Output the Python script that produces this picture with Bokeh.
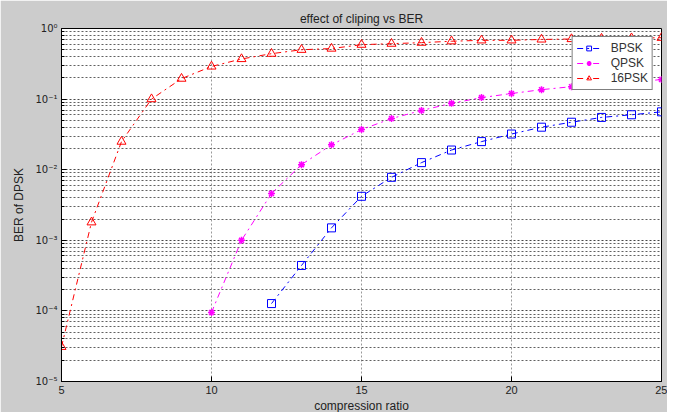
from bokeh.plotting import figure
from bokeh.models import (FixedTicker, CustomJSTickFormatter, Legend, LegendItem)
from bokeh.embed import file_html
from bokeh.resources import INLINE

# ---- data ----
ratio_bpsk = [12, 13, 14, 15, 16, 17, 18, 19, 20, 21, 22, 23, 24, 25]
ber_bpsk = [1.27e-4, 4.4e-4, 1.5e-3, 4.2e-3, 7.8e-3, 1.26e-2, 1.9e-2, 2.5e-2,
            3.2e-2, 4.0e-2, 4.7e-2, 5.5e-2, 6.0e-2, 6.6e-2]

ratio_qpsk = [10, 11, 12, 13, 14, 15, 16, 17, 18, 19, 20, 21, 22, 23, 24, 25]
ber_qpsk = [9.5e-5, 1.0e-3, 4.6e-3, 1.18e-2, 2.25e-2, 3.7e-2, 5.3e-2, 6.9e-2,
            8.7e-2, 0.105, 0.12, 0.136, 0.15, 0.16, 0.17, 0.19]

ratio_16psk = [5, 6, 7, 8, 9, 10, 11, 12, 13, 14, 15, 16, 17, 18, 19, 20, 21, 22, 23, 24, 25]
ber_16psk = [3.1e-5, 1.8e-3, 2.5e-2, 0.1, 0.195, 0.29, 0.37, 0.44, 0.50, 0.52,
             0.59, 0.61, 0.63, 0.66, 0.68, 0.68, 0.70, 0.71, 0.72, 0.73, 0.74]

x_ticks = [5, 10, 15, 20, 25]
y_exponents = [-5, -4, -3, -2, -1, 0]

title_text = "effect of cliping vs BER"
x_label = "compression ratio"
y_label = "BER of DPSK"

FONT = "Liberation Sans"
GREY = "#cccccc"

p = figure(width=667, height=412, output_backend="svg", toolbar_location=None,
           x_range=(5, 25), y_range=(1e-5, 1), y_axis_type="log",
           min_border_left=61, min_border_right=6, min_border_top=28, min_border_bottom=31,
           background_fill_color="white", border_fill_color=GREY)
p.frame_width = 600
p.frame_height = 353

p.title.text = title_text
p.title.align = "center"
p.title.text_font = FONT
p.title.text_font_size = "12px"
p.title.text_font_style = "normal"
p.title.text_color = "#222222"
p.title.standoff = 5
p.title.offset = 0

p.outline_line_color = "black"
p.outline_line_width = 1

# x axis
p.xaxis.ticker = FixedTicker(ticks=x_ticks, minor_ticks=[])
p.xaxis.axis_label = x_label
# y axis
decades = [10.0 ** e for e in y_exponents]
minors = [m * 10.0 ** e for e in y_exponents[:-1] for m in range(2, 10)]
p.yaxis.ticker = FixedTicker(ticks=decades, minor_ticks=minors)
p.yaxis.formatter = CustomJSTickFormatter(code="""
const e = Math.round(Math.log10(tick));
const sup = {'-':'\u207b','0':'\u2070','1':'\u00b9','2':'\u00b2','3':'\u00b3','4':'\u2074','5':'\u2075','6':'\u2076','7':'\u2077','8':'\u2078','9':'\u2079'};
return '10' + String(e).split('').map(c => sup[c]).join('');
""")
p.yaxis.axis_label = y_label

for ax in (p.xaxis, p.yaxis):
    ax.axis_line_color = "black"
    ax.major_tick_in = 5
    ax.major_tick_out = 0
    ax.minor_tick_in = 3
    ax.minor_tick_out = 0
    ax.major_tick_line_color = "black"
    ax.minor_tick_line_color = "black"
    ax.major_label_text_font = "DejaVu Sans"
    ax.major_label_text_font_size = "10px"
    ax.major_label_text_color = "#222222"
    ax.axis_label_text_font = FONT
    ax.axis_label_text_font_size = "12px"
    ax.axis_label_text_font_style = "normal"
    ax.axis_label_text_color = "#222222"
    ax.major_label_standoff = 4

p.xaxis.major_label_text_font = FONT
p.xaxis.major_label_text_font_size = "11px"
p.xaxis.axis_label_standoff = 2
p.yaxis.axis_label_standoff = 6

# grids
p.xgrid.grid_line_color = "#999999"
p.xgrid.grid_line_dash = "2 2"
p.ygrid.grid_line_color = "#333333"
p.ygrid.grid_line_dash = "2 2"
p.ygrid.grid_line_alpha = 0.9
p.ygrid.minor_grid_line_color = "#444444"
p.ygrid.minor_grid_line_dash = "2 2"
p.ygrid.minor_grid_line_alpha = 0.85

# series
l1 = p.line(ratio_bpsk, ber_bpsk, line_color="blue", line_dash="dashdot", line_width=1)
m1 = p.scatter(ratio_bpsk, ber_bpsk, marker="square", size=8, line_color="blue",
               fill_color=None, line_width=1)
l2 = p.line(ratio_qpsk, ber_qpsk, line_color="magenta", line_dash="dashdot", line_width=1)
m2 = p.scatter(ratio_qpsk, ber_qpsk, marker="asterisk", size=7, line_color="magenta",
               line_width=1.5)
l3 = p.line(ratio_16psk, ber_16psk, line_color="red", line_dash="dashdot", line_width=1)
m3 = p.scatter(ratio_16psk, ber_16psk, marker="triangle", size=9, line_color="red",
               fill_color=None, line_width=1)

legend = Legend(items=[LegendItem(label="BPSK", renderers=[l1, m1]),
                       LegendItem(label="QPSK", renderers=[l2, m2]),
                       LegendItem(label="16PSK", renderers=[l3, m3])],
                location="top_right")
legend.label_text_font = FONT
legend.label_text_font_size = "12px"
legend.label_text_color = "#333333"
legend.border_line_color = "black"
legend.border_line_width = 1
legend.background_fill_color = "white"
legend.background_fill_alpha = 1
legend.glyph_height = 12
legend.glyph_width = 24
legend.label_height = 12
legend.spacing = 1
legend.padding = 4
legend.margin = 8
legend.label_standoff = 10
p.add_layout(legend)

open("out.html", "w").write(file_html(p, INLINE))
